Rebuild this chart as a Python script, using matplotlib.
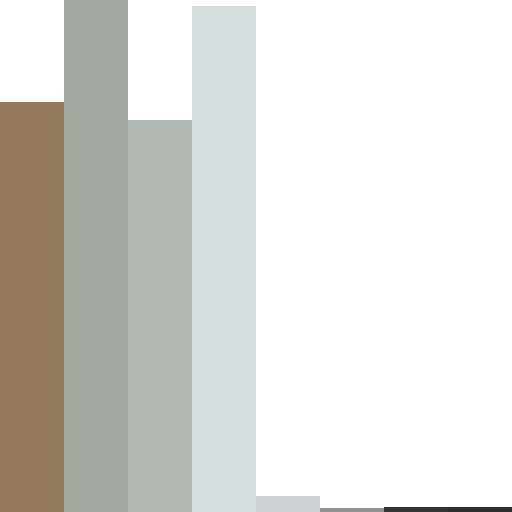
import matplotlib
matplotlib.use("Agg")
import matplotlib.pyplot as plt

categories = ["A", "B", "C", "D", "E", "F", "G", "H"]
values = [410, 512, 392, 506, 16, 4, 5, 5]
colors = ["#94785A", "#A1A89E", "#B0BAB3", "#D5DFDF",
          "#CDD1D4", "#929292", "#343434", "#303030"]

fig = plt.figure(figsize=(5.12, 5.12), dpi=100)
ax = fig.add_axes([0, 0, 1, 1])
ax.bar(range(len(categories)), values, width=1.0, color=colors, linewidth=0)
ax.set_xlim(-0.5, len(categories) - 0.5)
ax.set_ylim(0, max(values))
ax.axis("off")

fig.savefig("out.png", dpi=100)
